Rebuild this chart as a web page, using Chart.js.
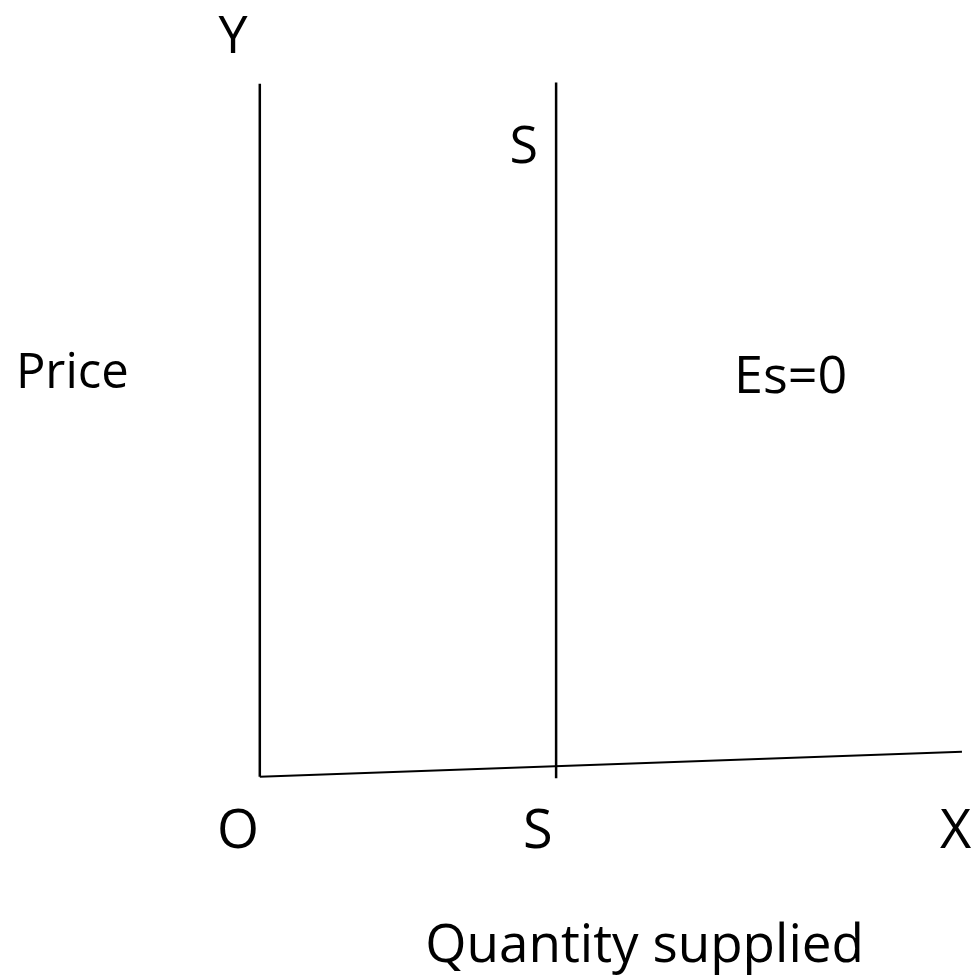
<!DOCTYPE html>
<html>
<head>
<meta charset="utf-8">
<script src="https://cdn.jsdelivr.net/npm/chart.js@4"></script>
<style>
  html, body { margin: 0; padding: 0; background: #ffffff; }
  #wrap { width: 976px; height: 975px; position: relative; }
</style>
</head>
<body>
<div id="wrap"><canvas id="chart"></canvas></div>
<script>
// Perfectly inelastic supply: quantity supplied is fixed whatever the price.
const fixedQuantity = [4.22, 4.22];      // quantity OS
const supplyPrice = [-0.02, 10.02];      // price span of the S–S line
const yAxisQuantity = [0, 0];
const yAxisPrice = [0, 10];              // price axis O–Y
const xAxisQuantity = [0, 10];           // quantity axis O–X
const xAxisPrice = [0, 0.36];

// Text labels placed in data units
const labelText = ['Y', 'S', 'Price', 'Es=0', 'O', 'S', 'X', 'Quantity supplied'];
const labelX = [-0.38, 3.76, -2.67, 7.56, -0.31, 3.96, 9.91, 5.48];
const labelY = [10.44, 8.86, 5.61, 5.54, -1.03, -1.03, -1.03, -2.67];
const labelSize = [52, 52, 49, 52, 54, 54, 54, 53];

const toPoints = (xs, ys) => xs.map((x, i) => ({ x: x, y: ys[i] }));

const lineStyle = (width) => ({
  showLine: true,
  borderColor: '#000000',
  borderWidth: width,
  pointRadius: 0,
  fill: false,
  tension: 0
});

const labelPlugin = {
  id: 'diagramLabels',
  afterDatasetsDraw(chart) {
    const { ctx, scales } = chart;
    ctx.save();
    ctx.fillStyle = '#000000';
    ctx.textAlign = 'center';
    ctx.textBaseline = 'alphabetic';
    labelText.forEach((t, i) => {
      ctx.font = labelSize[i] + 'px "Open Sans", sans-serif';
      ctx.fillText(t, scales.x.getPixelForValue(labelX[i]), scales.y.getPixelForValue(labelY[i]));
    });
    ctx.restore();
  }
};

new Chart(document.getElementById('chart'), {
  type: 'scatter',
  data: {
    datasets: [
      Object.assign({ label: 'Price axis', data: toPoints(yAxisQuantity, yAxisPrice) }, lineStyle(2.5)),
      Object.assign({ label: 'Quantity axis', data: toPoints(xAxisQuantity, xAxisPrice) }, lineStyle(2)),
      Object.assign({ label: 'Supply', data: toPoints(fixedQuantity, supplyPrice) }, lineStyle(2.5))
    ]
  },
  options: {
    responsive: true,
    maintainAspectRatio: false,
    animation: false,
    layout: { padding: 0 },
    plugins: {
      legend: { display: false },
      tooltip: { enabled: false }
    },
    scales: {
      x: { type: 'linear', min: -3.7, max: 10.2, display: false },
      y: { type: 'linear', min: -2.86, max: 11.21, display: false }
    }
  },
  plugins: [labelPlugin]
});
</script>
</body>
</html>
